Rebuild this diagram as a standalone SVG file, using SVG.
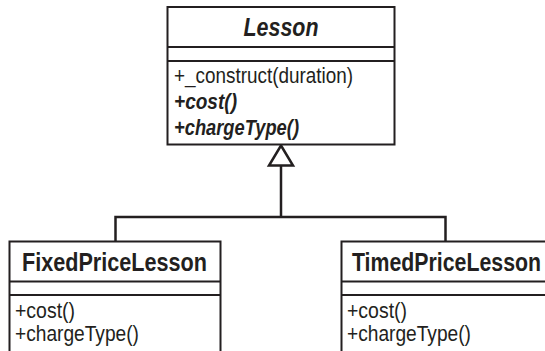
<svg xmlns="http://www.w3.org/2000/svg" width="545" height="351" viewBox="0 0 545 351">
<style>
.box{fill:#fff;stroke:#231f20;stroke-width:2}
.div{stroke:#231f20;stroke-width:2}
.conn{fill:none;stroke:#231f20;stroke-width:2.5}
.title{font-family:"Liberation Sans",Arial,sans-serif;font-weight:bold;font-size:25px;fill:#231f20}
.op{font-family:"Liberation Sans",Arial,sans-serif;font-size:21.5px;fill:#231f20}
.abs{font-weight:bold;font-style:italic}
</style>
<rect width="545" height="351" fill="#fff"/>
<g id="connectors">
<polyline class="conn" points="281,165.5 281,217"/>
<polyline class="conn" points="115.5,241.5 115.5,217 445.5,217 445.5,241.5"/>
<polygon class="conn" points="281,145.5 293,165.5 269,165.5" fill="#fff"/>
</g>
<g id="Lesson">
<rect class="box" x="167.5" y="7" width="227" height="137.5"/>
<line class="div" x1="167.5" y1="47" x2="394.5" y2="47"/>
<line class="div" x1="167.5" y1="61" x2="394.5" y2="61"/>
<text class="title" font-style="italic" x="281" y="36" text-anchor="middle" textLength="75" lengthAdjust="spacingAndGlyphs">Lesson</text>
<text class="op" x="174" y="83" textLength="179" lengthAdjust="spacingAndGlyphs">+_construct(duration)</text>
<text class="op abs" x="174" y="109" textLength="63" lengthAdjust="spacingAndGlyphs">+cost()</text>
<text class="op abs" x="174" y="135" textLength="125" lengthAdjust="spacingAndGlyphs">+chargeType()</text>
</g>
<g id="FixedPriceLesson">
<rect class="box" x="9.5" y="241.5" width="211" height="130"/>
<line class="div" x1="9.5" y1="281.5" x2="220.5" y2="281.5"/>
<line class="div" x1="9.5" y1="295" x2="220.5" y2="295"/>
<text class="title" x="22" y="271" textLength="185" lengthAdjust="spacingAndGlyphs">FixedPriceLesson</text>
<text class="op" x="15" y="318" textLength="60" lengthAdjust="spacingAndGlyphs">+cost()</text>
<text class="op" x="15" y="341" textLength="124" lengthAdjust="spacingAndGlyphs">+chargeType()</text>
</g>
<g id="TimedPriceLesson">
<rect class="box" x="341.5" y="241.5" width="211" height="130"/>
<line class="div" x1="341.5" y1="281.5" x2="552.5" y2="281.5"/>
<line class="div" x1="341.5" y1="295" x2="552.5" y2="295"/>
<text class="title" x="352" y="271" textLength="189" lengthAdjust="spacingAndGlyphs">TimedPriceLesson</text>
<text class="op" x="347" y="318" textLength="60" lengthAdjust="spacingAndGlyphs">+cost()</text>
<text class="op" x="347" y="341" textLength="124" lengthAdjust="spacingAndGlyphs">+chargeType()</text>
</g>
</svg>
